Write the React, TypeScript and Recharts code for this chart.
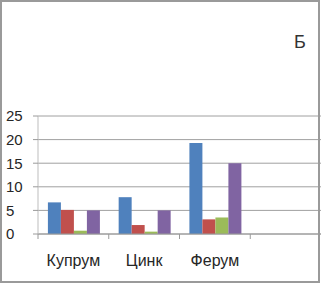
import React from "react";
import { BarChart, Bar, XAxis, YAxis, CartesianGrid } from "recharts";

const categories = ["Купрум", "Цинк", "Ферум", ""];
const series1 = [6.7, 7.8, 19.3, null];
const series2 = [5.1, 1.9, 3.1, null];
const series3 = [0.7, 0.5, 3.5, null];
const series4 = [5.0, 5.0, 15.0, null];
const yTicks = [0, 5, 10, 15, 20, 25];

const data = categories.map((c, i) => ({
  name: c,
  s1: series1[i],
  s2: series2[i],
  s3: series3[i],
  s4: series4[i],
}));

const CHART_W = 321;
const CHART_H = 284;
const YAXIS_W = 38;
const HALF_BAND = (CHART_W - YAXIS_W) / categories.length / 2;

const FONT = "'Liberation Sans', Arial, sans-serif";

const XTick = (props: any) => {
  const { x, y, payload } = props;
  return (
    <g>
      <line x1={x - HALF_BAND} y1={y} x2={x - HALF_BAND} y2={y + 5} stroke="#9a9a9a" strokeWidth={1} />
      <text x={x} y={y + 32} textAnchor="middle" fontSize={16} fill="#262626" fontFamily={FONT}>
        {payload.value}
      </text>
    </g>
  );
};

const YTick = (props: any) => {
  const { y, payload } = props;
  return (
    <g>
      <line x1={33} y1={y} x2={38} y2={y} stroke="#9a9a9a" strokeWidth={1} />
      <text x={6} y={y} dy="0.36em" textAnchor="start" fontSize={15} fill="#262626" fontFamily={FONT}>
        {payload.value}
      </text>
    </g>
  );
};

export default function App() {
  return (
    <div style={{ position: "fixed", left: 0, top: 0, width: CHART_W, height: CHART_H, background: "#fff" }}>
      <div
        style={{
          position: "absolute",
          left: 0,
          top: 0,
          width: 320,
          height: 283,
          border: "2px solid #9a9a9a",
          boxSizing: "border-box",
          pointerEvents: "none",
          zIndex: 2,
        }}
      />
      <div
        style={{
          position: "absolute",
          left: 294,
          top: 32,
          fontSize: 18,
          fontFamily: FONT,
          color: "#333",
          lineHeight: "20px",
        }}
      >
        Б
      </div>
      <BarChart
        width={CHART_W}
        height={CHART_H}
        data={data}
        margin={{ top: 116, right: 0, bottom: 0, left: 0 }}
        barCategoryGap="14%"
        barGap={0}
      >
        <CartesianGrid horizontal={true} vertical={false} stroke="#a0a0a0" strokeWidth={1} />
        <XAxis
          dataKey="name"
          height={50}
          tickLine={false}
          tickSize={0}
          tickMargin={0}
          axisLine={{ stroke: "#9a9a9a" }}
          tick={<XTick />}
          interval={0}
        />
        <YAxis
          width={YAXIS_W}
          domain={[0, 25]}
          ticks={yTicks}
          tickLine={false}
          axisLine={{ stroke: "#bdbdbd" }}
          tick={<YTick />}
          interval={0}
        />
        <Bar dataKey="s1" fill="#4F81BD" isAnimationActive={false} />
        <Bar dataKey="s2" fill="#C0504D" isAnimationActive={false} />
        <Bar dataKey="s3" fill="#9BBB59" isAnimationActive={false} />
        <Bar dataKey="s4" fill="#8064A2" isAnimationActive={false} />
      </BarChart>
    </div>
  );
}
